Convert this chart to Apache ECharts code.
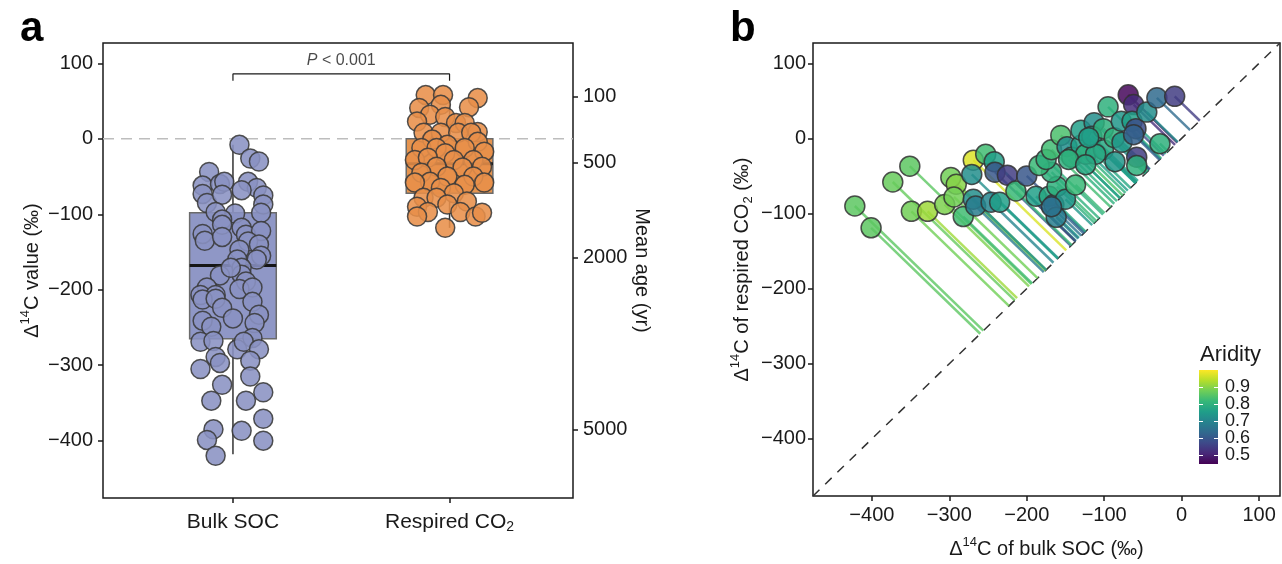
<!DOCTYPE html>
<html>
<head>
<meta charset="utf-8">
<script src="https://cdn.jsdelivr.net/npm/echarts@6/dist/echarts.min.js"></script>
<style>
html, body { margin: 0; padding: 0; background: #fff; }
#chart { width: 1282px; height: 564px; }
</style>
</head>
<body>
<div id="chart"></div>
<script>
// ---- panel a: jittered points (offset from group centre, Δ14C value in ‰)
const groupNames = ['Bulk SOC', 'Respired CO2']
const bulkJitter = [0.03, 0.08, 0.12, -0.11, -0.14, -0.06, -0.04, 0.07, 0.11, 0.14, -0.14, -0.12, -0.05, 0.04, 0.14, -0.08, 0.01, 0.13,
  -0.05, -0.05, -0.14, -0.13, -0.05, 0.04, 0.06, 0.13, 0.07, 0.03, 0.12, 0.13, 0.11, 0.02, 0.04, -0.06, 0.04, 0.06, -0.01,
  -0.12, -0.15, -0.08, 0.03, 0.09, -0.14, -0.08, 0.09, -0.05, 0.12, -0.14, 0, -0.1, 0.1, -0.15, -0.09, 0.02, 0.09, 0.05, 0.12,
  -0.08, -0.06, 0.08, -0.15, 0.08, -0.05, 0.14, -0.1, 0.06, 0.14, -0.09, 0.04, -0.12, 0.14, -0.08]
const bulkValues = [-8, -26, -30, -44, -62, -60, -57, -57, -65, -75, -73, -85, -74, -68, -87, -97, -99, -98,
  -107, -114, -126, -135, -130, -118, -127, -122, -136, -147, -140, -155, -160, -160, -171, -181, -180, -189, -171,
  -197, -207, -207, -199, -197, -213, -212, -216, -224, -233, -241, -238, -249, -244, -269, -268, -279, -264, -269, -279,
  -289, -297, -294, -305, -315, -326, -336, -347, -347, -371, -385, -387, -399, -400, -420]
const respJitter = [-0.11, -0.03, 0.13, -0.14, -0.04, 0.09, -0.09, -0.02, -0.15, 0.03, 0.07, 0.13, -0.12, -0.04, 0.04, 0.1, -0.08,
  -0.01, 0.13, -0.13, -0.06, 0.07, 0.16, -0.02, -0.16, -0.1, 0.02, 0.11, -0.06, 0.06, 0.15, -0.13, -0.01, 0.11, -0.09, -0.16,
  0.07, 0.16, -0.04, 0.02, -0.12, -0.06, 0.08, -0.15, -0.01, -0.1, 0.05, -0.15, 0.12, -0.02, 0.15]
const respValues = [58, 58, 54, 41, 45, 42, 32, 29, 23, 21, 21, 9, 8, 8, 8, 8, -1,
  -8, -4, -12, -12, -12, -17, -19, -28, -25, -28, -28, -37, -38, -37, -45, -50, -50, -57, -58,
  -61, -58, -65, -72, -78, -78, -83, -90, -87, -97, -97, -103, -103, -118, -98]
// box statistics: min, Q1, median, Q3, max
const bulkBox = [-418, -265, -168, -98, -8]
const respBox = [-118, -72, -33, 0, 54]
const deltaTicks = [-400, -300, -200, -100, 0, 100]
const ageLabels = ['100', '500', '2000', '5000']
const ageTickDelta = [56, -32, -157, -385]
const bracketLow = 77
const bracketHigh = 86

// ---- panel b: sites (bulk SOC Δ14C, respired CO2 Δ14C, aridity)
const siteBulk = [-422, -401, -373, -351, -349, -328, -306, -298, -291, -294, -282, -269, -253, -242, -271, -241, -225,
  -269, -266, -246, -235, -214, -200, -188, -171, -165, -162, -161, -150, -137, -168, -184, -175, -168, -156, -148,
  -142, -130, -124, -130, -113, -116, -101, -101, -111, -95, -87, -86, -77, -78, -69, -62, -64, -59, -45, -58, -58,
  -28, -32, -9, -62, -120, -146, -124, -168]
const siteResp = [-90, -119, -58, -37, -97, -97, -88, -52, -61, -78, -104, -29, -21, -31, -48, -45, -49,
  -81, -90, -85, -85, -70, -50, -77, -77, -88, -105, -64, -81, -62, -45, -36, -28, -15, 4, -11,
  -25, -9, -21, 11, 21, 3, 13, -15, -21, 42, 1, -31, -5, 23, 58, 45, 23, 13, 35, -25, -36,
  -7, 54, 56, 5, 1, -28, -35, -91]
const siteAridity = [0.86, 0.86, 0.87, 0.86, 0.88, 0.92, 0.89, 0.88, 0.9, 0.88, 0.83, 0.97, 0.83, 0.76, 0.72, 0.6, 0.55,
  0.72, 0.68, 0.7, 0.76, 0.82, 0.6, 0.76, 0.78, 0.63, 0.68, 0.8, 0.74, 0.82, 0.8, 0.82, 0.8, 0.83, 0.84, 0.72,
  0.8, 0.76, 0.8, 0.76, 0.72, 0.76, 0.8, 0.78, 0.78, 0.8, 0.8, 0.74, 0.74, 0.74, 0.46, 0.52, 0.76, 0.58, 0.72, 0.55, 0.8,
  0.8, 0.64, 0.55, 0.62, 0.76, 0.8, 0.78, 0.66]
const aridityTicks = [0.5, 0.6, 0.7, 0.8, 0.9]

// axis ranges
const aMin = -476, aMax = 127
const xaMin = 0.4, xaMax = 2.57
const bMin = -476, bMax = 127
const aridMin = 0.45, aridMax = 1.0

const viridis = ['#440154', '#482878', '#3e4989', '#31688e', '#26828e', '#1f9e89', '#35b779', '#6ece58', '#b5de2b', '#fde725']
const ink = '#1a1a1a'
const font = 'Liberation Sans, Arial, sans-serif'
const tickStyle = { color: ink, width: 1.5 }
const minus = v => String(v).replace('-', '\u2212')
const richName = {
  t: { fontSize: 20, lineHeight: 26, color: ink, fontFamily: font },
  s: { fontSize: 13, lineHeight: 12, verticalAlign: 'top', color: ink, fontFamily: font },
  u: { fontSize: 13, lineHeight: 14, verticalAlign: 'bottom', color: ink, fontFamily: font }
}

const sites = siteBulk.map((b, i) => [b, siteResp[i], siteAridity[i]])
const boxFills = ['#8f97c6', '#e5944f']

function renderBox(params, api) {
  const x = api.value(0)
  const half = 0.2
  const lo = api.coord([x, api.value(1)])
  const q1 = api.coord([x, api.value(2)])
  const med = api.coord([x, api.value(3)])
  const q3 = api.coord([x, api.value(4)])
  const hi = api.coord([x, api.value(5)])
  const left = api.coord([x - half, 0])[0]
  const right = api.coord([x + half, 0])[0]
  return {
    type: 'group',
    children: [
      { type: 'line', shape: { x1: lo[0], y1: lo[1], x2: q1[0], y2: q1[1] }, style: { stroke: '#333', lineWidth: 1.5 } },
      { type: 'line', shape: { x1: q3[0], y1: q3[1], x2: hi[0], y2: hi[1] }, style: { stroke: '#333', lineWidth: 1.5 } },
      { type: 'rect', shape: { x: left, y: q3[1], width: right - left, height: q1[1] - q3[1] },
        style: { fill: boxFills[params.dataIndex], stroke: '#6b6b6b', lineWidth: 1.5 } },
      { type: 'line', shape: { x1: left, y1: med[1], x2: right, y2: med[1] }, style: { stroke: '#161616', lineWidth: 3 } }
    ]
  }
}

function renderSegment(params, api) {
  const b = api.value(0), r = api.value(1)
  const m = (b + r) / 2
  const p = api.coord([b, r])
  const q = api.coord([m, m])
  return {
    type: 'line',
    shape: { x1: p[0], y1: p[1], x2: q[0], y2: q[1] },
    style: { stroke: api.visual('color'), lineWidth: 2.5, opacity: 0.8 }
  }
}

function renderColorbar(params, api) {
  const tl = api.coord([api.value(0), api.value(3)])
  const br = api.coord([api.value(1), api.value(2)])
  const stops = viridis.slice().reverse().map((c, i) => ({ offset: i / (viridis.length - 1), color: c }))
  return {
    type: 'rect',
    shape: { x: tl[0], y: tl[1], width: br[0] - tl[0], height: br[1] - tl[1] },
    style: { fill: new echarts.graphic.LinearGradient(0, 0, 0, 1, stops) }
  }
}

// legend labels drawn through the colour-bar axis scale
function renderLegendLabels(params, api) {
  const p = api.coord([1, api.value(0)])
  return {
    type: 'text', x: p[0] + 7, y: p[1],
    style: { text: api.value(0).toFixed(1), fontSize: 18, fontFamily: font, fill: ink, verticalAlign: 'middle', align: 'left' }
  }
}

const noLine = { show: false, onZero: false }

const chart = echarts.init(document.getElementById('chart'))
chart.setOption({
  animation: false,
  textStyle: { fontFamily: font },
  title: [
    { text: 'a', left: 15, top: 3, textStyle: { fontSize: 42, fontWeight: 'bold', color: '#000', fontFamily: font } },
    { text: 'b', left: 725, top: 3, textStyle: { fontSize: 42, fontWeight: 'bold', color: '#000', fontFamily: font } },
    { text: 'Aridity', left: 1195, top: 339, textStyle: { fontSize: 22, fontWeight: 'normal', color: ink, fontFamily: font } }
  ],
  grid: [
    { left: 103, top: 43, width: 470, height: 455, show: true, borderColor: ink, borderWidth: 1.5, backgroundColor: 'transparent' },
    { left: 813, top: 43, width: 467, height: 454, show: true, borderColor: ink, borderWidth: 1.5, backgroundColor: 'transparent' },
    { left: 1199, top: 370, width: 19, height: 94 }
  ],
  xAxis: [
    {
      gridIndex: 0, type: 'value', min: xaMin, max: xaMax,
      axisLine: noLine, splitLine: { show: false },
      axisTick: { show: true, length: 5, customValues: [1, 2], lineStyle: tickStyle },
      axisLabel: {
        customValues: [1, 2], fontSize: 21, color: ink, margin: 12, lineHeight: 24,
        formatter: v => v === 1 ? groupNames[0] : 'Respired CO{u|2}',
        rich: { u: { fontSize: 14, lineHeight: 14, verticalAlign: 'bottom', color: ink, fontFamily: font } }
      }
    },
    {
      gridIndex: 1, type: 'value', min: bMin, max: bMax,
      name: '{t|Δ}{s|14}{t|C of bulk SOC (‰)}', nameLocation: 'middle', nameGap: 40,
      nameTextStyle: { rich: richName },
      axisLine: noLine, splitLine: { show: false },
      axisTick: { show: true, length: 5, customValues: deltaTicks, lineStyle: tickStyle },
      axisLabel: { customValues: deltaTicks, fontSize: 20, color: ink, margin: 9, formatter: minus }
    },
    { gridIndex: 2, type: 'value', min: 0, max: 1, show: false, axisLine: noLine }
  ],
  yAxis: [
    {
      gridIndex: 0, type: 'value', min: aMin, max: aMax, position: 'left',
      name: '{t|Δ}{s|14}{t|C value (‰)}', nameLocation: 'middle', nameGap: 58, nameRotate: 90,
      nameTextStyle: { rich: richName },
      axisLine: noLine, splitLine: { show: false },
      axisTick: { show: true, length: 5, customValues: deltaTicks, lineStyle: tickStyle },
      axisLabel: { customValues: deltaTicks, fontSize: 20, color: ink, margin: 10, formatter: minus }
    },
    {
      gridIndex: 0, type: 'value', min: aMin, max: aMax, position: 'right',
      name: 'Mean age (yr)', nameLocation: 'middle', nameGap: 54, nameRotate: -90,
      nameTextStyle: { fontSize: 20, color: ink },
      axisLine: noLine, splitLine: { show: false },
      axisTick: { show: true, length: 5, customValues: ageTickDelta, lineStyle: tickStyle },
      axisLabel: {
        customValues: ageTickDelta, fontSize: 20, color: ink, margin: 10,
        formatter: v => ageLabels[ageTickDelta.indexOf(v)]
      }
    },
    {
      gridIndex: 1, type: 'value', min: bMin, max: bMax,
      name: '{t|Δ}{s|14}{t|C of respired CO}{u|2}{t| (‰)}', nameLocation: 'middle', nameGap: 58, nameRotate: 90,
      nameTextStyle: { rich: richName },
      axisLine: noLine, splitLine: { show: false },
      axisTick: { show: true, length: 5, customValues: deltaTicks, lineStyle: tickStyle },
      axisLabel: { customValues: deltaTicks, fontSize: 20, color: ink, margin: 7, formatter: minus }
    },
    {
      gridIndex: 2, type: 'value', min: aridMin, max: aridMax, position: 'left', z: 10,
      axisLine: noLine, splitLine: { show: false }, axisLabel: { show: false },
      axisTick: { show: true, inside: true, length: 4, customValues: aridityTicks, lineStyle: { color: '#fff', width: 1 } }
    },
    {
      gridIndex: 2, type: 'value', min: aridMin, max: aridMax, position: 'right', z: 10,
      axisLine: noLine, splitLine: { show: false }, axisLabel: { show: false },
      axisTick: { show: true, inside: true, length: 4, customValues: aridityTicks, lineStyle: { color: '#fff', width: 1 } }
    }
  ],
  visualMap: {
    type: 'continuous', show: false, min: aridMin, max: aridMax, dimension: 2,
    seriesIndex: [6, 7], inRange: { color: viridis }
  },
  series: [
    // 0: zero reference line
    {
      type: 'line', xAxisIndex: 0, yAxisIndex: 0, z: 1, symbol: 'none', silent: true,
      data: [[xaMin, 0], [xaMax, 0]],
      lineStyle: { color: '#bdbdbd', width: 1.5, type: [11, 7] }
    },
    // 1: boxes
    {
      type: 'custom', xAxisIndex: 0, yAxisIndex: 0, z: 2, renderItem: renderBox,
      encode: { x: 0, y: [1, 2, 3, 4, 5] },
      data: [[1, ...bulkBox], [2, ...respBox]]
    },
    // 2, 3: jittered points
    {
      type: 'scatter', xAxisIndex: 0, yAxisIndex: 0, z: 3, symbolSize: 19,
      data: bulkJitter.map((j, i) => [1 + j, bulkValues[i]]),
      itemStyle: { color: '#8a92c3', borderColor: '#3a3a3a', borderWidth: 1.5, opacity: 0.88 }
    },
    {
      type: 'scatter', xAxisIndex: 0, yAxisIndex: 0, z: 3, symbolSize: 19,
      data: respJitter.map((j, i) => [2 + j, respValues[i]]),
      itemStyle: { color: '#e8904a', borderColor: '#3a3a3a', borderWidth: 1.5, opacity: 0.88 }
    },
    // 4: significance bracket
    {
      type: 'line', xAxisIndex: 0, yAxisIndex: 0, z: 4, symbol: 'none', silent: true,
      data: [[1, bracketLow], [1, bracketHigh], [2, bracketHigh], [2, bracketLow]],
      lineStyle: { color: ink, width: 1.2 }
    },
    // 5: P label
    {
      type: 'scatter', xAxisIndex: 0, yAxisIndex: 0, z: 4, symbolSize: 0, silent: true,
      data: [[1.5, bracketHigh]],
      label: {
        show: true, position: 'top', distance: 5, formatter: '{i|P} < 0.001',
        fontSize: 16, color: ink,
        rich: { i: { fontStyle: 'italic', fontSize: 16, color: ink, fontFamily: font } }
      }
    },
    // 6: segments to the 1:1 line
    {
      type: 'custom', xAxisIndex: 1, yAxisIndex: 2, z: 2, renderItem: renderSegment,
      encode: { x: 0, y: 1 }, data: sites
    },
    // 7: site points
    {
      type: 'scatter', xAxisIndex: 1, yAxisIndex: 2, z: 4, symbolSize: 20, data: sites,
      itemStyle: { borderColor: '#333', borderWidth: 1.5, opacity: 0.85 }
    },
    // 8: 1:1 line
    {
      type: 'line', xAxisIndex: 1, yAxisIndex: 2, z: 1, symbol: 'none', silent: true,
      data: [[bMin, bMin], [bMax, bMax]],
      lineStyle: { color: '#333', width: 1.5, type: [9, 8] }
    },
    // 9: colour bar
    {
      type: 'custom', xAxisIndex: 2, yAxisIndex: 3, z: 2, silent: true, renderItem: renderColorbar,
      encode: { x: [0, 1], y: [2, 3] },
      data: [[0, 1, aridMin, aridMax]]
    },
    // 10: colour bar labels
    {
      type: 'custom', xAxisIndex: 2, yAxisIndex: 3, z: 3, silent: true, renderItem: renderLegendLabels,
      encode: { y: 0 }, data: aridityTicks.map(v => [v])
    }
  ]
})
</script>
</body>
</html>
